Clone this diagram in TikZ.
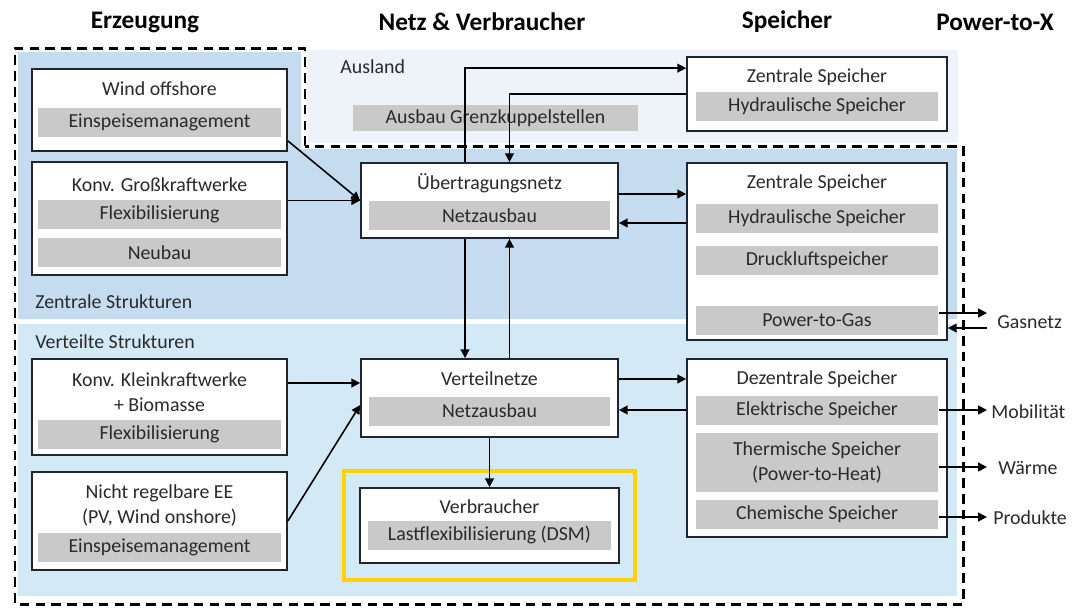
\documentclass[tikz,border=0pt]{standalone}
\usepackage{fontspec}
\setmainfont{Carlito}
\usetikzlibrary{arrows.meta}
\definecolor{zentral}{HTML}{C4DBF0}
\definecolor{verteilt}{HTML}{D3EAF6}
\definecolor{ausland}{HTML}{EDF3F8}
\definecolor{grau}{HTML}{C9C9C9}
\definecolor{rahmen}{HTML}{1F2430}
\definecolor{schrift}{HTML}{2A2A2A}
\definecolor{gelb}{HTML}{FFD200}
\begin{document}
\begin{tikzpicture}[x=0.02cm,y=-0.02cm,
  >={Triangle[length=5pt,width=5pt]},
  kasten/.style={draw=rahmen,line width=1pt,fill=white,inner sep=0pt},
  balken/.style={fill=grau,inner sep=0pt,minimum height=0.58cm,text=schrift,align=center,
    font=\fontsize{11.3}{14.5}\selectfont},
  titel/.style={text=schrift,inner sep=0pt,align=center,font=\fontsize{11.3}{14.5}\selectfont},
  kopf/.style={font=\fontsize{14.4}{17}\selectfont\bfseries},
  grenze/.style={line width=1.7pt,dash pattern=on 5.5pt off 3.5pt},
  gelbrahmen/.style={draw=gelb,line width=2.3pt},
  pfeil/.style={line width=0.9pt,->}]
\useasboundingbox (0,0) rectangle (1072,610);
\fill[white] (0,0) rectangle (1072,610);
\fill[ausland] (308,50) rectangle (958,143);
\fill[zentral] (18,52) -- (301,52) -- (301,149) -- (957,149) -- (957,319) -- (18,319) -- cycle;
\fill[verteilt] (18,324) rectangle (957,596);
\draw[grenze] (305,146) -- (305,48) -- (15,48) -- (15,604) -- (963,604) -- (963,146) -- cycle;

\node[kopf] (erz) at (145,22) {Erzeugung};
\node[kopf] (netz) at (482,22) {Netz \& Verbraucher};
\node[kopf] (spei) at (787,22) {Speicher};
\node[kopf] (ptx) at (995,22) {Power-to-X};

\node[titel,anchor=west] (ausl) at (340,67) {Ausland};
\node[titel,anchor=west] (zs) at (35,302) {Zentrale Strukturen};
\node[titel,anchor=west] (vs) at (35,342) {Verteilte Strukturen};
\node[balken,minimum width=5.7cm,minimum height=0.52cm] (gk) at (495.5,118) {Ausbau Grenzkuppelstellen};

\node[kasten,minimum width=5.1cm,minimum height=1.64cm] (wind) at (159.5,110) {};
\node[titel] (windt) at (159.5,89) {Wind offshore};
\node[balken,minimum width=4.86cm] (wind1) at (159.5,122) {Einspeisemanagement};

\node[kasten,minimum width=5.1cm,minimum height=2.26cm] (gross) at (159.5,218.5) {};
\node[titel] (grosst) at (159.5,185) {Konv. Großkraftwerke};
\node[balken,minimum width=4.86cm] (gross1) at (159.5,214) {Flexibilisierung};
\node[balken,minimum width=4.86cm] (gross2) at (159.5,252.5) {Neubau};

\node[kasten,minimum width=5.1cm,minimum height=1.92cm] (klein) at (159.5,407) {};
\node[titel] (kleint) at (159.5,392) {Konv. Kleinkraftwerke\\+ Biomasse};
\node[balken,minimum width=4.86cm] (klein1) at (159.5,434) {Flexibilisierung};

\node[kasten,minimum width=5.1cm,minimum height=1.96cm] (nicht) at (159.5,521) {};
\node[titel] (nichtt) at (159.5,505.5) {Nicht regelbare EE\\(PV, Wind onshore)};
\node[balken,minimum width=4.86cm] (nicht1) at (159.5,547.5) {Einspeisemanagement};

\node[kasten,minimum width=5.14cm,minimum height=1.5cm] (uen) at (489.5,200.5) {};
\node[titel] (uent) at (489.5,183) {Übertragungsnetz};
\node[balken,minimum width=4.84cm] (uen1) at (489.5,215.5) {Netzausbau};

\node[kasten,minimum width=5.14cm,minimum height=1.56cm] (vn) at (489.5,398) {};
\node[titel] (vnt) at (489.5,379) {Verteilnetze};
\node[balken,minimum width=4.84cm] (vn1) at (489.5,411) {Netzausbau};

\node[gelbrahmen,minimum width=5.82cm,minimum height=2.18cm] (hl) at (489.5,525.5) {};
\node[kasten,minimum width=5.18cm,minimum height=1.5cm] (verb) at (489.5,525.5) {};
\node[titel] (verbt) at (489.5,507) {Verbraucher};
\node[balken,minimum width=4.88cm] (verb1) at (489.5,535) {Lastflexibilisierung (DSM)};

\node[kasten,minimum width=5.2cm,minimum height=1.48cm] (zsp1) at (817,94) {};
\node[titel] (zsp1t) at (817,77) {Zentrale Speicher};
\node[balken,minimum width=4.86cm] (zsp11) at (817,106.5) {Hydraulische Speicher};

\node[kasten,minimum width=5.2cm,minimum height=3.54cm] (zsp2) at (817,251.5) {};
\node[titel] (zsp2t) at (817,183) {Zentrale Speicher};
\node[balken,minimum width=4.86cm] (hyd) at (817,218) {Hydraulische Speicher};
\node[balken,minimum width=4.86cm] (druck) at (817,260) {Druckluftspeicher};
\node[balken,minimum width=4.86cm] (p2g) at (817,320) {Power-to-Gas};

\node[kasten,minimum width=5.2cm,minimum height=3.56cm] (dsp) at (817,448) {};
\node[titel] (dspt) at (817,379) {Dezentrale Speicher};
\node[balken,minimum width=4.86cm] (elek) at (817,410) {Elektrische Speicher};
\node[balken,minimum width=4.86cm,minimum height=1.18cm] (therm) at (817,462.5) {Thermische Speicher\\(Power-to-Heat)};
\node[balken,minimum width=4.86cm] (chem) at (817,514) {Chemische Speicher};

\node[titel,anchor=west] (gasnetz) at (997,322) {Gasnetz};
\node[titel,anchor=west] (mobil) at (991,412) {Mobilität};
\node[titel,anchor=west] (waerme) at (998,468) {Wärme};
\node[titel,anchor=west] (prod) at (993,518) {Produkte};
\coordinate (ende) at (987,0);

\draw[pfeil] ([yshift=0.22cm]wind.south east) -- (uen.west);
\draw[pfeil] (gross.east |- uen.west) -- (uen.west);
\draw[pfeil] ([xshift=-0.49cm]uen.north) |- ([yshift=-0.24cm]zsp1.north west);
\draw[pfeil] (zsp1.west) -| ([xshift=0.4cm]uen.north);
\coordinate (u1) at ([yshift=0.13cm]uen.east);
\coordinate (u2) at ([yshift=-0.45cm]uen.east);
\draw[pfeil] (u1) -- (u1 -| zsp2.west);
\draw[pfeil] (u2 -| zsp2.west) -- (u2);
\draw[pfeil] ([xshift=-0.49cm]uen.south) -- ([xshift=-0.49cm]vn.north);
\draw[pfeil] ([xshift=0.4cm]vn.north) -- ([xshift=0.4cm]uen.south);
\coordinate (v1) at ([yshift=0.38cm]vn.east);
\coordinate (v2) at ([yshift=-0.24cm]vn.east);
\draw[pfeil] (v1) -- (v1 -| dsp.west);
\draw[pfeil] (v2 -| dsp.west) -- (v2);
\draw[pfeil] (vn.south) -- (verb.north);
\coordinate (v3) at ([yshift=0.3cm]vn.west);
\draw[pfeil] (klein.east |- v3) -- (v3);
\draw[pfeil] (nicht.east) -- ([yshift=-0.14cm]vn.west);

\coordinate (g1) at ([yshift=0.14cm]p2g.east);
\coordinate (g2) at ([yshift=-0.16cm]p2g.east);
\draw[pfeil] (g1) -- (g1 -| ende);
\draw[pfeil] (g2 -| ende) -- (g2 -| zsp2.east);
\draw[pfeil] (elek.east) -- (elek.east -| ende);
\coordinate (t1) at ([yshift=-0.09cm]therm.east);
\draw[pfeil] (t1) -- (t1 -| ende);
\coordinate (c1) at ([yshift=-0.06cm]chem.east);
\draw[pfeil] (c1) -- (c1 -| ende);
\end{tikzpicture}
\end{document}
